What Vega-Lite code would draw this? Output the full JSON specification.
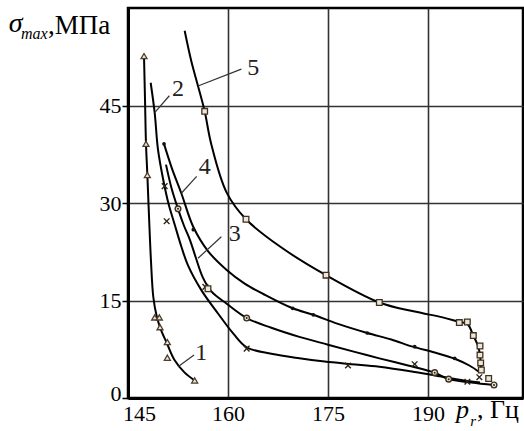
{
  "$schema": "https://vega.github.io/schema/vega-lite/v6.json",
  "width": 395,
  "height": 390,
  "autosize": {"type": "none"},
  "padding": {"left": 128, "top": 8, "right": 1, "bottom": 33},
  "background": "white",
  "config": {"view": {"stroke": "black", "strokeWidth": 2.5}, "font": "Liberation Serif"},
  "datasets": {
    "curves": [
      {"c":1,"i":1,"x":147.4,"y":52.6},{"c":1,"i":2,"x":147.55,"y":46},{"c":1,"i":3,"x":147.7,"y":39.1},{"c":1,"i":4,"x":147.9,"y":34.4},{"c":1,"i":5,"x":148.15,"y":28},{"c":1,"i":6,"x":148.45,"y":21},{"c":1,"i":7,"x":148.8,"y":15.5},{"c":1,"i":8,"x":149.3,"y":12.6},{"c":1,"i":9,"x":149.9,"y":10.6},{"c":1,"i":10,"x":150.8,"y":8.5},{"c":1,"i":11,"x":152.0,"y":5.8},{"c":1,"i":12,"x":153.5,"y":3.9},{"c":1,"i":13,"x":155.0,"y":2.7},
      {"c":2,"i":1,"x":148.4,"y":48.5},{"c":2,"i":2,"x":149.0,"y":43.9},{"c":2,"i":3,"x":149.5,"y":38.2},{"c":2,"i":4,"x":150.3,"y":33.5},{"c":2,"i":5,"x":151.1,"y":29.8},{"c":2,"i":6,"x":152.0,"y":26.7},{"c":2,"i":7,"x":153.0,"y":23.3},{"c":2,"i":8,"x":154.0,"y":20.4},{"c":2,"i":9,"x":156.0,"y":16.6},{"c":2,"i":10,"x":158.5,"y":13.0},{"c":2,"i":11,"x":160.8,"y":9.9},{"c":2,"i":12,"x":162.8,"y":7.8},{"c":2,"i":13,"x":166.5,"y":6.8},{"c":2,"i":14,"x":170.7,"y":6.1},{"c":2,"i":15,"x":174.5,"y":5.6},{"c":2,"i":16,"x":178.5,"y":5.2},{"c":2,"i":17,"x":182.7,"y":4.8},{"c":2,"i":18,"x":188,"y":4.0},{"c":2,"i":19,"x":192,"y":3.3},{"c":2,"i":20,"x":196,"y":2.6},{"c":2,"i":21,"x":197.8,"y":2.4},
      {"c":3,"i":1,"x":150.7,"y":35.9},{"c":3,"i":2,"x":151.5,"y":32.4},{"c":3,"i":3,"x":152.5,"y":29.1},{"c":3,"i":4,"x":153.4,"y":26.5},{"c":3,"i":5,"x":154.3,"y":24.3},{"c":3,"i":6,"x":155.2,"y":21.5},{"c":3,"i":7,"x":156.2,"y":18.6},{"c":3,"i":8,"x":157.5,"y":16.4},{"c":3,"i":9,"x":159.8,"y":14.5},{"c":3,"i":10,"x":162.8,"y":12.3},{"c":3,"i":11,"x":166.5,"y":10.8},{"c":3,"i":12,"x":170.7,"y":9.4},{"c":3,"i":13,"x":175,"y":8.2},{"c":3,"i":14,"x":179,"y":7.1},{"c":3,"i":15,"x":182.7,"y":6.1},{"c":3,"i":16,"x":187,"y":5.0},{"c":3,"i":17,"x":191.0,"y":3.9},{"c":3,"i":18,"x":193.1,"y":2.9},{"c":3,"i":19,"x":196.5,"y":2.4},{"c":3,"i":20,"x":199.9,"y":2.0},
      {"c":4,"i":1,"x":150.4,"y":39.1},{"c":4,"i":2,"x":151.6,"y":35.3},{"c":4,"i":3,"x":153.0,"y":31.5},{"c":4,"i":4,"x":154.8,"y":26.3},{"c":4,"i":5,"x":157,"y":22.6},{"c":4,"i":6,"x":159.8,"y":19.7},{"c":4,"i":7,"x":162.5,"y":17.6},{"c":4,"i":8,"x":165.3,"y":16.0},{"c":4,"i":9,"x":169.7,"y":13.8},{"c":4,"i":10,"x":172.8,"y":12.8},{"c":4,"i":11,"x":176.5,"y":11.4},{"c":4,"i":12,"x":180.9,"y":10.0},{"c":4,"i":13,"x":184.5,"y":9.0},{"c":4,"i":14,"x":187.7,"y":7.9},{"c":4,"i":15,"x":191,"y":7.0},{"c":4,"i":16,"x":194.1,"y":6.0},{"c":4,"i":17,"x":196.2,"y":5.0},{"c":4,"i":18,"x":197.7,"y":4.0},
      {"c":5,"i":1,"x":153.5,"y":56.5},{"c":5,"i":2,"x":154.5,"y":51.8},{"c":5,"i":3,"x":155.5,"y":48.0},{"c":5,"i":4,"x":156.5,"y":44.1},{"c":5,"i":5,"x":157.5,"y":39.0},{"c":5,"i":6,"x":159.8,"y":31.6},{"c":5,"i":7,"x":162.7,"y":27.5},{"c":5,"i":8,"x":167.8,"y":23.3},{"c":5,"i":9,"x":174.7,"y":18.9},{"c":5,"i":10,"x":182.7,"y":14.7},{"c":5,"i":11,"x":188,"y":13.3},{"c":5,"i":12,"x":192.2,"y":12.4},{"c":5,"i":13,"x":194.7,"y":11.7},{"c":5,"i":14,"x":195.9,"y":11.4},{"c":5,"i":15,"x":196.8,"y":9.6},{"c":5,"i":16,"x":197.5,"y":8.0},{"c":5,"i":17,"x":197.8,"y":6.6},{"c":5,"i":18,"x":197.9,"y":5.4},{"c":5,"i":19,"x":198.0,"y":4.1}
    ],
    "tri": [{"x":147.4,"y":52.6},{"x":147.7,"y":39.1},{"x":147.9,"y":34.3},{"x":149.0,"y":12.4},{"x":149.7,"y":12.4},{"x":149.8,"y":10.9},{"x":150.9,"y":8.6},{"x":150.9,"y":6.2},{"x":155.0,"y":2.7}],
    "cross": [{"x":150.5,"y":32.6},{"x":150.8,"y":27.2},{"x":156.6,"y":17.1},{"x":162.8,"y":7.6},{"x":178.0,"y":5.0},{"x":188.0,"y":5.2},{"x":195.9,"y":2.5},{"x":197.7,"y":3.2}],
    "circ": [{"x":152.5,"y":29.1},{"x":162.8,"y":12.3},{"x":191.0,"y":3.9},{"x":193.1,"y":2.9},{"x":199.9,"y":2.0}],
    "dot": [{"x":150.4,"y":39.1},{"x":154.8,"y":25.9},{"x":169.7,"y":13.8},{"x":172.8,"y":12.8},{"x":180.9,"y":10.0},{"x":188.0,"y":7.9},{"x":194.0,"y":6.1}],
    "sq": [{"x":156.5,"y":44.1},{"x":162.7,"y":27.5},{"x":174.7,"y":18.9},{"x":182.7,"y":14.7},{"x":194.7,"y":11.6},{"x":195.9,"y":11.7},{"x":196.8,"y":9.6},{"x":197.8,"y":8.0},{"x":197.8,"y":6.6},{"x":197.9,"y":5.4},{"x":198.0,"y":4.3},{"x":199.1,"y":3.0},{"x":157.0,"y":16.8}],
    "leaders": [
      {"x":162.0,"y":50.6,"x2":155.5,"y2":48.0},
      {"x":151.2,"y":46.5,"x2":149.0,"y2":43.9},
      {"x":155.3,"y":34.1,"x2":153.0,"y2":31.5},
      {"x":159.0,"y":24.8,"x2":155.5,"y2":21.5},
      {"x":154.9,"y":6.6,"x2":152.5,"y2":4.8}
    ],
    "labels": [
      {"x":163.8,"y":50.8,"t":"5"},
      {"x":152.5,"y":47.5,"t":"2"},
      {"x":156.5,"y":35.6,"t":"4"},
      {"x":161.0,"y":25.3,"t":"3"},
      {"x":156.0,"y":6.9,"t":"1"}
    ]
  },
  "encoding": {
    "x": {"field": "x", "type": "quantitative",
      "scale": {"domain": [145, 204.25], "nice": false, "zero": false},
      "axis": {"values": [145, 160, 175, 190], "title": null, "grid": true, "ticks": false,
        "labelPadding": 5, "labelFontSize": 22, "labelFont": "Liberation Serif", "labelColor": "black",
        "labelFlush": false, "labelOverlap": false,
        "labelOffset": {"condition": {"test": "datum.value == 145", "value": 11}, "value": 0},
        "domainColor": "black", "domainWidth": 3, "gridColor": "#333333", "gridWidth": 1.6, "gridOpacity": 1}},
    "y": {"field": "y", "type": "quantitative",
      "scale": {"domain": [0, 60], "nice": false, "zero": false},
      "axis": {"values": [0, 15, 30, 45], "title": null, "grid": true, "ticks": true, "tickSize": 6, "tickColor": "black", "tickWidth": 1.5,
        "labelPadding": 1, "labelFontSize": 22, "labelFont": "Liberation Serif", "labelColor": "black", "labelOverlap": false, "labelFlush": false,
        "labelOffset": {"condition": {"test": "datum.value == 0", "value": -5}, "value": 0},
        "domainColor": "black", "domainWidth": 3, "gridColor": "#333333", "gridWidth": 1.6, "gridOpacity": 1}}
  },
  "layer": [
    {"data": {"name": "curves"},
     "mark": {"type": "line", "interpolate": "catmull-rom", "color": "black", "strokeWidth": 2},
     "encoding": {"detail": {"field": "c", "type": "nominal"}, "order": {"field": "i", "type": "quantitative"}}},
    {"data": {"name": "leaders"},
     "mark": {"type": "rule", "color": "#333333", "strokeWidth": 1.2},
     "encoding": {"x2": {"field": "x2"}, "y2": {"field": "y2"}}},
    {"data": {"name": "tri"},
     "mark": {"type": "point", "shape": "triangle-up", "size": 36, "filled": true, "fill": "#efe6d8", "stroke": "#4d3d2d", "strokeWidth": 1.3, "opacity": 1},
     "encoding": {}},
    {"data": {"name": "cross"},
     "mark": {"type": "point", "shape": "M-1,-1L1,1M1,-1L-1,1", "size": 32, "filled": false, "stroke": "#2d2418", "strokeWidth": 1.4, "opacity": 1},
     "encoding": {}},
    {"data": {"name": "circ"},
     "mark": {"type": "point", "shape": "circle", "size": 32, "filled": true, "fill": "#efe6d8", "stroke": "#3d3020", "strokeWidth": 1.4, "opacity": 1},
     "encoding": {}},
    {"data": {"name": "circ"},
     "mark": {"type": "point", "shape": "circle", "size": 4, "filled": true, "color": "#2d2418", "opacity": 1},
     "encoding": {}},
    {"data": {"name": "dot"},
     "mark": {"type": "point", "shape": "circle", "size": 14, "filled": true, "color": "#111111", "opacity": 1},
     "encoding": {}},
    {"data": {"name": "sq"},
     "mark": {"type": "point", "shape": "square", "size": 32, "filled": true, "fill": "#efe6d8", "stroke": "#3d3020", "strokeWidth": 1.3, "opacity": 1},
     "encoding": {}},
    {"data": {"name": "labels"},
     "mark": {"type": "text", "font": "Liberation Serif", "fontSize": 24, "color": "#222222", "align": "center", "baseline": "middle"},
     "encoding": {"text": {"field": "t"}}},
    {"data": {"values": [{"x": 127.1, "y": 56.3, "t": "σ"}]},
     "mark": {"type": "text", "clip": false, "font": "Liberation Serif", "fontSize": 28, "fontStyle": "italic", "color": "black", "align": "left", "baseline": "alphabetic"},
     "encoding": {"text": {"field": "t"}}},
    {"data": {"values": [{"x": 128.94, "y": 55.2, "t": "max"}]},
     "mark": {"type": "text", "clip": false, "font": "Liberation Serif", "fontSize": 16, "fontStyle": "italic", "color": "black", "align": "left", "baseline": "alphabetic"},
     "encoding": {"text": {"field": "t"}}},
    {"data": {"values": [{"x": 133.0, "y": 56.0, "t": ",МПа"}]},
     "mark": {"type": "text", "clip": false, "font": "Liberation Serif", "fontSize": 27, "color": "black", "align": "left", "baseline": "alphabetic"},
     "encoding": {"text": {"field": "t"}}},
    {"data": {"values": [{"x": 194.2, "y": -3.13, "t": "p"}]},
     "mark": {"type": "text", "clip": false, "font": "Liberation Serif", "fontSize": 26, "fontStyle": "italic", "color": "black", "align": "left", "baseline": "alphabetic"},
     "encoding": {"text": {"field": "t"}}},
    {"data": {"values": [{"x": 196.35, "y": -4.37, "t": "r"}]},
     "mark": {"type": "text", "clip": false, "font": "Liberation Serif", "fontSize": 15, "fontStyle": "italic", "color": "black", "align": "left", "baseline": "alphabetic"},
     "encoding": {"text": {"field": "t"}}},
    {"data": {"values": [{"x": 197.35, "y": -3.13, "t": ", Гц"}]},
     "mark": {"type": "text", "clip": false, "font": "Liberation Serif", "fontSize": 26, "color": "black", "align": "left", "baseline": "alphabetic"},
     "encoding": {"text": {"field": "t"}}}
  ]
}
